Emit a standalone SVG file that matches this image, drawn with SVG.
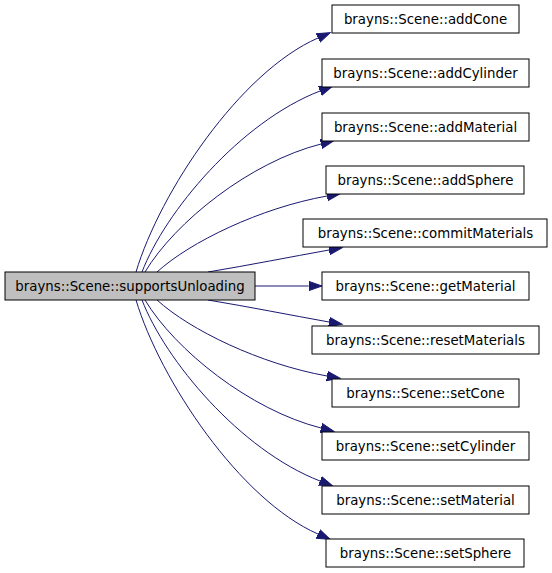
<svg xmlns="http://www.w3.org/2000/svg" width="552" height="573" viewBox="0 0 552 573">
<style>
.box{fill:#ffffff;stroke:#000000;stroke-width:1}
.main{fill:#bfbfbf;stroke:#000000;stroke-width:1}
.lbl{font-family:"DejaVu Sans",sans-serif;font-size:13.33px;fill:#000000;text-anchor:middle}
.edge{fill:none;stroke:#191970;stroke-width:1;marker-end:url(#arr)}
</style>
<defs>
<marker id="arr" markerUnits="userSpaceOnUse" markerWidth="16" markerHeight="12" refX="0" refY="5" orient="auto" viewBox="0 0 16 10">
<polygon points="0,0.3 13.3,5 0,9.7" fill="#191970" stroke="#191970" stroke-width="1"/>
</marker>
</defs>
<rect width="552" height="573" fill="#ffffff"/>
<g id="edges">
<path class="edge" d="M136,272 C160,192 240,72 318,38"/>
<path class="edge" d="M142,272 C165,212 240,122 320,91"/>
<path class="edge" d="M145,272 C175,222 250,162 321,144"/>
<path class="edge" d="M157,272 C190,242 260,208 327,196"/>
<path class="edge" d="M208,272 C250,265 290,257 329,250"/>
<path class="edge" d="M255,286 L308.7,286"/>
<path class="edge" d="M208,300 C250,307 290,315 329,322"/>
<path class="edge" d="M157,300 C190,330 260,364 327,376"/>
<path class="edge" d="M145,300 C175,350 250,410 321,428"/>
<path class="edge" d="M142,300 C165,360 240,450 320,481"/>
<path class="edge" d="M136,300 C160,380 240,500 318,534"/>
</g>
<g id="supportsUnloading"><rect class="main" x="5" y="272" width="250" height="28"/><text class="lbl" x="130" y="290.5">brayns::Scene::supportsUnloading</text></g>
<g id="addCone"><rect class="box" x="332" y="5" width="187" height="28"/><text class="lbl" x="425.5" y="23.5">brayns::Scene::addCone</text></g>
<g id="addCylinder"><rect class="box" x="322" y="59" width="207" height="28"/><text class="lbl" x="425.5" y="77.5">brayns::Scene::addCylinder</text></g>
<g id="addMaterial"><rect class="box" x="322" y="113" width="207" height="28"/><text class="lbl" x="425.5" y="131.5">brayns::Scene::addMaterial</text></g>
<g id="addSphere"><rect class="box" x="326" y="166" width="198" height="28"/><text class="lbl" x="425.5" y="184.5">brayns::Scene::addSphere</text></g>
<g id="commitMaterials"><rect class="box" x="303" y="219" width="244" height="28"/><text class="lbl" x="425.5" y="237.5">brayns::Scene::commitMaterials</text></g>
<g id="getMaterial"><rect class="box" x="322" y="272" width="207" height="28"/><text class="lbl" x="425.5" y="290.5">brayns::Scene::getMaterial</text></g>
<g id="resetMaterials"><rect class="box" x="312" y="326" width="227" height="28"/><text class="lbl" x="425.5" y="344.5">brayns::Scene::resetMaterials</text></g>
<g id="setCone"><rect class="box" x="332" y="379" width="187" height="28"/><text class="lbl" x="425.5" y="397.5">brayns::Scene::setCone</text></g>
<g id="setCylinder"><rect class="box" x="322" y="432" width="207" height="28"/><text class="lbl" x="425.5" y="450.5">brayns::Scene::setCylinder</text></g>
<g id="setMaterial"><rect class="box" x="322" y="486" width="207" height="28"/><text class="lbl" x="425.5" y="504.5">brayns::Scene::setMaterial</text></g>
<g id="setSphere"><rect class="box" x="326" y="539" width="198" height="28"/><text class="lbl" x="425.5" y="557.5">brayns::Scene::setSphere</text></g>
</svg>
